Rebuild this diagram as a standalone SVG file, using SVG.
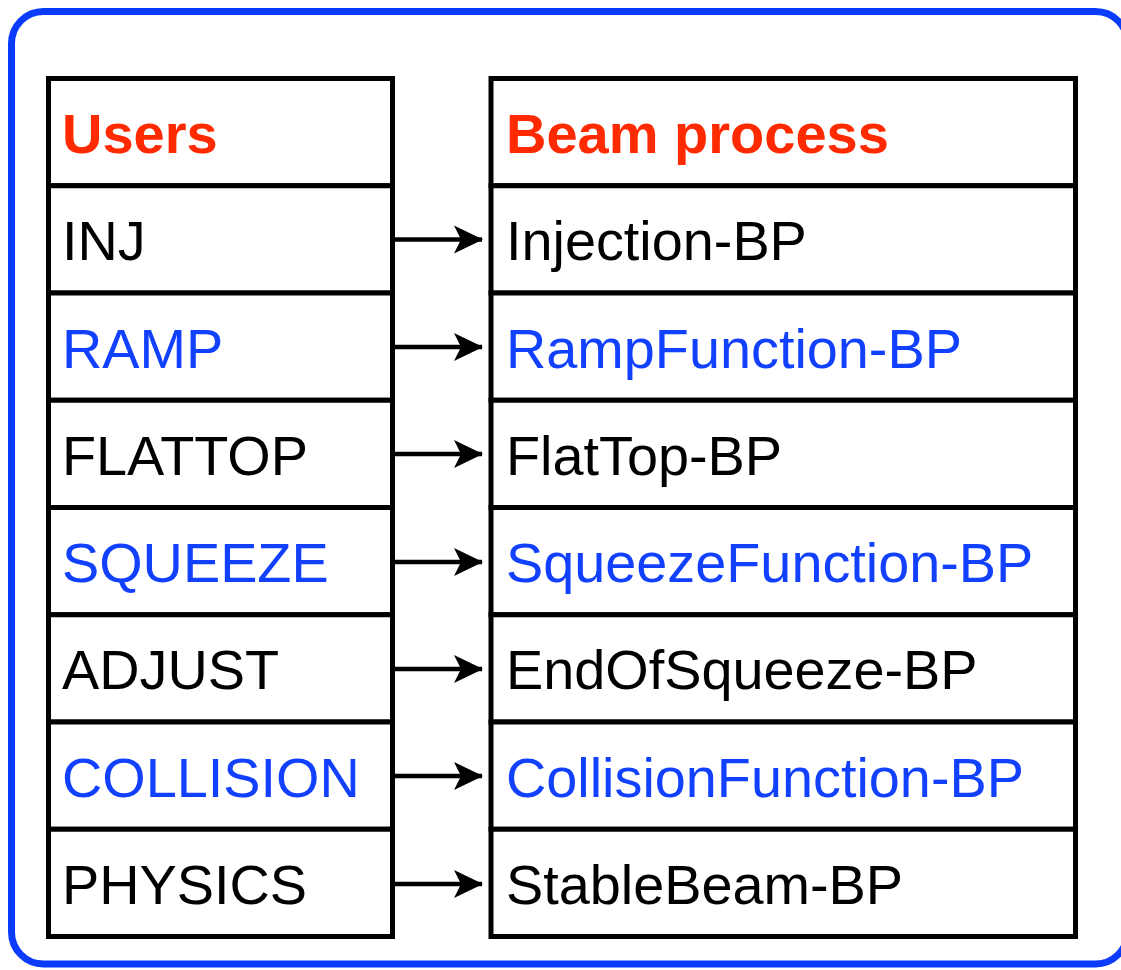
<svg xmlns="http://www.w3.org/2000/svg" width="1121" height="970" viewBox="0 0 1121 970">
  <style>
    .frame { fill: none; stroke: #0b3cfb; stroke-width: 7; }
    .cell { fill: #ffffff; stroke: #000000; stroke-width: 5; }
    .t { font-family: "Liberation Sans", Arial, sans-serif; font-size: 55.8px; }
    .hd { font-family: "Liberation Sans", Arial, sans-serif; font-size: 56px; font-weight: bold; fill: #ff2a00; }
    .k { fill: #000000; }
    .b { fill: #1240ff; }
    .conn { stroke: #000000; stroke-width: 4.5; fill: none; }
  </style>
  <defs>
    <marker id="arrow" markerUnits="userSpaceOnUse" markerWidth="30" markerHeight="30" refX="28" refY="14" orient="auto" overflow="visible">
      <path d="M0,0 L29,14 L0,28 L7,14 Z" fill="#000000"/>
    </marker>
  </defs>

  <rect width="1121" height="970" fill="#ffffff"/>

  <!-- outer rounded frame -->
  <rect class="frame" x="11.5" y="11.5" width="1116" height="952.5" rx="32" ry="32"/>

  <!-- Users column -->
  <g id="users-header"><rect class="cell" x="48.5" y="78.5" width="344" height="107.25"/><text class="hd" x="62" y="153.2">Users</text></g>
  <g id="user-inj"><rect class="cell" x="48.5" y="185.75" width="344" height="107.25"/><text class="t k" x="62" y="260.4">INJ</text></g>
  <g id="user-ramp"><rect class="cell" x="48.5" y="293" width="344" height="107.25"/><text class="t b" x="62" y="367.7">RAMP</text></g>
  <g id="user-flattop"><rect class="cell" x="48.5" y="400.25" width="344" height="107.25"/><text class="t k" x="62" y="474.9">FLATTOP</text></g>
  <g id="user-squeeze"><rect class="cell" x="48.5" y="507.5" width="344" height="107.25"/><text class="t b" x="62" y="582.2">SQUEEZE</text></g>
  <g id="user-adjust"><rect class="cell" x="48.5" y="614.75" width="344" height="107.25"/><text class="t k" x="62" y="689.4">ADJUST</text></g>
  <g id="user-collision"><rect class="cell" x="48.5" y="722" width="344" height="107.25"/><text class="t b" x="62" y="796.7">COLLISION</text></g>
  <g id="user-physics"><rect class="cell" x="48.5" y="829.25" width="344" height="107.25"/><text class="t k" x="62" y="903.9">PHYSICS</text></g>

  <!-- Beam process column -->
  <g id="bp-header"><rect class="cell" x="491" y="78.5" width="584.5" height="107.25"/><text class="hd" x="506" y="153.2">Beam process</text></g>
  <g id="bp-injection"><rect class="cell" x="491" y="185.75" width="584.5" height="107.25"/><text class="t k" x="506" y="260.4">Injection-BP</text></g>
  <g id="bp-ramp"><rect class="cell" x="491" y="293" width="584.5" height="107.25"/><text class="t b" x="506" y="367.7">RampFunction-BP</text></g>
  <g id="bp-flattop"><rect class="cell" x="491" y="400.25" width="584.5" height="107.25"/><text class="t k" x="506" y="474.9">FlatTop-BP</text></g>
  <g id="bp-squeeze"><rect class="cell" x="491" y="507.5" width="584.5" height="107.25"/><text class="t b" x="506" y="582.2">SqueezeFunction-BP</text></g>
  <g id="bp-endofsqueeze"><rect class="cell" x="491" y="614.75" width="584.5" height="107.25"/><text class="t k" x="506" y="689.4">EndOfSqueeze-BP</text></g>
  <g id="bp-collision"><rect class="cell" x="491" y="722" width="584.5" height="107.25"/><text class="t b" x="506" y="796.7">CollisionFunction-BP</text></g>
  <g id="bp-stablebeam"><rect class="cell" x="491" y="829.25" width="584.5" height="107.25"/><text class="t k" x="506" y="903.9">StableBeam-BP</text></g>

  <!-- user to beam-process connectors -->
  <g id="connectors">
    <line class="conn" x1="392" y1="239.5" x2="482" y2="239.5" marker-end="url(#arrow)"/>
    <line class="conn" x1="392" y1="347" x2="482" y2="347" marker-end="url(#arrow)"/>
    <line class="conn" x1="392" y1="454" x2="482" y2="454" marker-end="url(#arrow)"/>
    <line class="conn" x1="392" y1="562" x2="482" y2="562" marker-end="url(#arrow)"/>
    <line class="conn" x1="392" y1="669" x2="482" y2="669" marker-end="url(#arrow)"/>
    <line class="conn" x1="392" y1="776" x2="482" y2="776" marker-end="url(#arrow)"/>
    <line class="conn" x1="392" y1="884" x2="482" y2="884" marker-end="url(#arrow)"/>
  </g>
</svg>
